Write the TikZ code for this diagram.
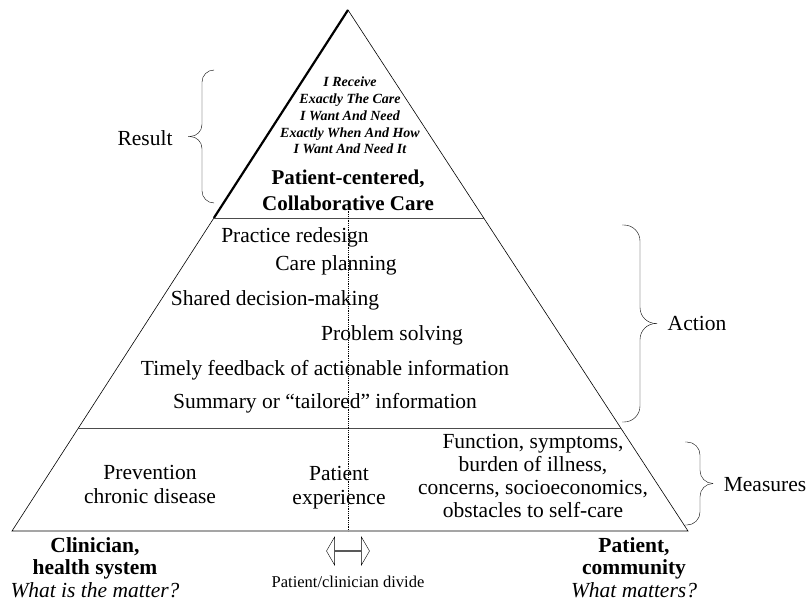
\documentclass[tikz,border=0pt]{standalone}
\usepackage{fontspec}
\setmainfont{Liberation Serif}
\usetikzlibrary{
    calc,
    shapes.arrows
}
\tikzset{
    body/.style={font=\fontsize{21.5}{24.5}\selectfont, align=center, inner sep=0pt},
    motto/.style={font=\fontsize{14}{16.8}\selectfont\bfseries\itshape, align=center, inner sep=0pt},
    title/.style={font=\fontsize{21}{26}\selectfont\bfseries, align=center, inner sep=0pt},
    side/.style={font=\fontsize{21.5}{22.5}\selectfont, align=center, inner sep=0pt},
    curly/.style={rounded corners=#1, thin},
    divider/.style={draw=black!70, thick},
}

\begin{document}
\begin{tikzpicture}[x=1pt, y=-1pt]
    \useasboundingbox (0,0) rectangle (806,602);
    % pyramid
    \coordinate (A) at (348,10);
    \coordinate (B) at (12,531);
    \coordinate (C) at (688,531);
    \coordinate (L1) at ($(A)!0.3992!(B)$);
    \coordinate (R1) at ($(A)!0.3992!(C)$);
    \coordinate (L2) at ($(A)!0.8023!(B)$);
    \coordinate (R2) at ($(A)!0.8023!(C)$);
    \draw[semithick] (B) -- (A) -- (C) -- cycle;
    \draw[line width=2.2pt] (A) -- (L1);
    \draw[divider] (L1) -- (R1);
    \draw[divider] (L2) -- (R2);
    \coordinate (D1) at (348,207);
    \coordinate (D2) at (348,531);
    \draw[densely dotted, thick] (D1) -- (D2);

    % result
    \node[motto] (want) at (350,115.5) {I Receive\\Exactly The Care\\I Want And Need\\Exactly When And How\\I Want And Need It};
    \node[title] (pcc) at (348,190) {Patient-centered,\\Collaborative Care};

    % action
    \node[body] (redesign) at (295,237) {Practice redesign};
    \node[body] (planning) at (336,265) {Care planning};
    \node[body] (shared) at (275,300) {Shared decision-making};
    \node[body] (solving) at (392,335) {Problem solving};
    \node[body] (timely) at (325,370) {Timely feedback of actionable information};
    \node[body] (summary) at (325,403) {Summary or ``tailored'' information};

    % measures
    \node[body] (prevent) at (150,484.5) {Prevention\\chronic disease};
    \node[body] (experience) at (339,487.5) {Patient\\experience};
    \node[body, font=\fontsize{21.5}{23}\selectfont] (function) at (533,475.5) {Function, symptoms,\\burden of illness,\\concerns, socioeconomics,\\obstacles to self-care};

    % braces
    \coordinate (rb1) at (214,70);
    \coordinate (rb2) at (214,203);
    \coordinate (rtip) at (188,136.5);
    \draw[curly=12pt] (rb1) -- ++(-12,0) |- (rtip);
    \draw[curly=12pt] (rb2) -- ++(-12,0) |- (rtip);
    \node[body] (result) at (145,138) {Result};
    \coordinate (ab1) at (622,225);
    \coordinate (ab2) at (622,422);
    \coordinate (atip) at (657,323.5);
    \draw[curly=16pt] (ab1) -- ++(18,0) |- (atip);
    \draw[curly=16pt] (ab2) -- ++(18,0) |- (atip);
    \node[body] (action) at (697,323) {Action};
    \coordinate (mb1) at (685,442);
    \coordinate (mb2) at (685,525);
    \coordinate (mtip) at (713,483.5);
    \draw[curly=13pt] (mb1) -- ++(15,0) |- (mtip);
    \draw[curly=13pt] (mb2) -- ++(15,0) |- (mtip);
    \node[body] (measures) at (765,485) {Measures};

    % bottom
    \node[side] (clinician) at (95,567.5) {\textbf{Clinician,}\\\textbf{health system}\\\textit{What is the matter?}};
    \node[side] (patient) at (634,567.5) {\textbf{Patient,}\\\textbf{community}\\\textit{What matters?}};
    \node[double arrow, draw, fill=white, thin, minimum height=43pt, minimum width=28pt,
        double arrow head extend=6.5pt, double arrow tip angle=120, inner sep=0pt] (divide) at (348,551) {};
    \node[font=\fontsize{16.5}{18}\selectfont, inner sep=0pt] (divlabel) at (348,582) {Patient/clinician divide};
\end{tikzpicture}
\end{document}
